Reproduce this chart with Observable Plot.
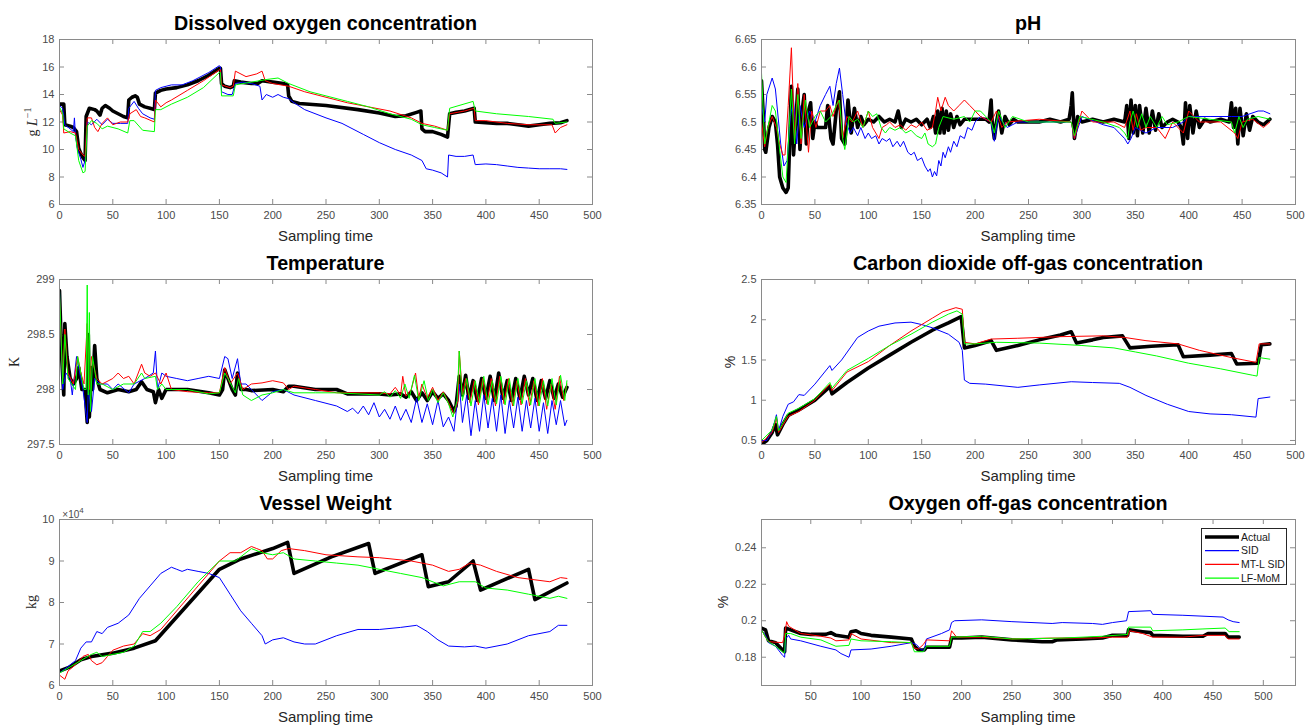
<!DOCTYPE html>
<html><head><meta charset="utf-8">
<script src="https://cdn.jsdelivr.net/npm/d3@7"></script>
<script src="https://cdn.jsdelivr.net/npm/@observablehq/plot@0.6"></script>
<style>
body{margin:0;background:#fff;}
#wrap{position:relative;width:1313px;height:725px;overflow:hidden;background:#fff;font-family:"Liberation Sans",Arial,sans-serif;}
.c{position:absolute;transform:translate(-50%,-50%);white-space:nowrap;}
.title{font-weight:bold;font-size:19.7px;color:#000;}
.xl{font-size:15px;color:#262626;}
.yl{font-size:14px;color:#262626;transform:translate(-50%,-50%) rotate(-90deg);}
.serif{font-family:"Liberation Serif","Times New Roman",serif;}
</style></head><body><div id="wrap"></div>
<script>
// ---------- Data (sampling time, value) ----------
const xTicks = [0,50,100,150,200,250,300,350,400,450,500];
const xTicksO2 = [50,100,150,200,250,300,350,400,450,500];
const seriesNames = ["Actual","SID","MT-L SID","LF-MoM"];

// Dissolved oxygen concentration (g L^-1)
const doActual = [[0,13.3],[4,13.3],[5,11.8],[10,11.7],[13,11.6],[16,11.3],[18,10.1],[20,9.7],[22,9.4],[24,9.2],[25,12.4],[28,13.0],[33,12.9],[35,12.8],[38,12.5],[40,13.0],[43,13.2],[47,13.0],[50,12.8],[55,12.6],[60,12.4],[64,12.3],[65,13.6],[68,13.8],[71,13.9],[73,13.8],[75,13.3],[80,13.1],[85,13.0],[89,12.9],[90,14.1],[95,14.3],[100,14.4],[110,14.5],[120,14.7],[130,15.0],[140,15.4],[150,15.9],[151,15.9],[152,14.8],[155,14.6],[160,14.5],[163,14.6],[164,15.0],[170,14.9],[180,14.8],[186,14.8],[190,15.0],[200,14.9],[210,14.8],[214,14.7],[215,13.9],[218,13.5],[225,13.35],[250,13.2],[280,12.9],[300,12.65],[315,12.4],[325,12.45],[335,12.7],[339,12.8],[340,11.5],[343,11.3],[350,11.3],[358,11.1],[364,10.9],[366,12.6],[372,12.7],[380,12.8],[389,13.0],[390,12.0],[400,11.95],[410,11.9],[420,11.9],[430,11.8],[440,11.7],[450,11.8],[460,11.9],[470,11.95],[476,12.1]];
const doSID = [[0,13.2],[3,13.0],[5,11.8],[10,11.5],[13,11.3],[14,12.3],[15,11.0],[17,10.0],[20,9.3],[22,8.7],[24,9.2],[26,12.0],[30,11.8],[35,12.2],[40,11.8],[45,12.2],[50,11.9],[57,11.9],[64,11.9],[65,13.0],[70,13.5],[74,13.0],[78,12.6],[85,12.3],[89,12.2],[90,14.3],[95,14.5],[100,14.6],[105,14.7],[115,14.7],[125,15.0],[140,15.6],[150,16.1],[151,16.0],[152,14.2],[158,14.0],[162,14.0],[165,14.8],[172,14.9],[180,14.8],[188,14.6],[190,13.6],[194,14.0],[200,13.8],[205,14.0],[210,13.8],[215,13.7],[220,13.4],[230,12.9],[250,12.3],[265,11.9],[285,11.1],[300,10.5],[315,10.0],[330,9.6],[340,9.2],[344,8.6],[350,8.5],[358,8.3],[364,8.0],[365,9.6],[372,9.5],[380,9.5],[388,9.6],[390,8.9],[400,8.95],[410,8.9],[420,8.8],[430,8.7],[440,8.65],[450,8.6],[460,8.6],[470,8.6],[476,8.55]];
const doMTL = [[0,12.9],[3,12.5],[4,11.2],[10,11.3],[15,11.2],[18,10.0],[22,9.6],[24,9.5],[26,12.3],[30,12.3],[33,11.6],[36,11.3],[40,11.9],[45,12.3],[50,11.8],[57,12.0],[64,12.0],[66,12.6],[72,12.9],[76,12.4],[80,12.3],[89,12.0],[90,13.6],[95,13.1],[100,13.4],[105,13.6],[120,14.3],[135,15.0],[150,15.8],[151,15.8],[152,14.7],[160,14.5],[163,14.6],[165,15.7],[175,15.3],[185,15.5],[190,15.7],[193,15.0],[200,14.8],[215,14.6],[230,14.2],[250,13.8],[270,13.4],[290,13.1],[310,12.8],[330,12.3],[340,11.9],[352,11.7],[364,11.4],[366,12.6],[380,12.8],[389,13.0],[390,12.1],[400,12.1],[420,11.9],[440,11.8],[462,11.8],[465,11.2],[470,11.6],[476,11.8]];
const doLF = [[0,13.1],[3,12.6],[4,11.5],[10,11.2],[15,11.0],[18,9.2],[22,8.3],[24,8.4],[26,11.7],[30,12.1],[35,11.9],[40,11.5],[45,11.7],[55,11.5],[64,11.2],[66,12.1],[70,12.1],[78,11.4],[89,11.3],[90,12.9],[95,12.9],[105,13.3],[120,13.8],[135,14.5],[150,15.6],[151,15.6],[152,13.9],[163,13.9],[165,14.7],[180,14.9],[195,15.1],[205,15.2],[215,14.8],[235,14.2],[250,13.9],[270,13.5],[290,13.1],[310,12.6],[330,12.2],[340,11.8],[352,11.6],[364,11.4],[366,13.0],[388,13.5],[390,12.8],[410,12.6],[440,12.4],[463,12.2],[465,11.9],[476,12.0]];

// pH
const phActual = [[0,6.575],[2,6.5],[3,6.45],[4,6.445],[7,6.49],[10,6.51],[13,6.5],[15,6.46],[17,6.40],[20,6.38],[23,6.372],[25,6.38],[27,6.50],[28,6.565],[30,6.44],[32,6.50],[34,6.56],[36,6.45],[38,6.52],[40,6.55],[42,6.46],[44,6.52],[46,6.535],[48,6.47],[50,6.5],[52,6.49],[56,6.49],[60,6.49],[62,6.53],[65,6.47],[67,6.46],[70,6.52],[73,6.555],[75,6.47],[78,6.46],[81,6.54],[84,6.48],[87,6.525],[90,6.49],[93,6.51],[96,6.495],[100,6.505],[105,6.5],[110,6.51],[115,6.5],[120,6.505],[125,6.50],[128,6.52],[131,6.49],[135,6.505],[140,6.50],[145,6.505],[150,6.495],[155,6.505],[158,6.49],[161,6.51],[163,6.48],[165,6.52],[167,6.48],[169,6.525],[171,6.48],[173,6.52],[175,6.485],[177,6.515],[180,6.49],[183,6.51],[186,6.495],[190,6.505],[200,6.505],[210,6.505],[213,6.50],[215,6.54],[216,6.50],[218,6.47],[220,6.50],[222,6.52],[225,6.48],[228,6.51],[232,6.495],[236,6.505],[240,6.50],[260,6.50],[270,6.505],[280,6.50],[288,6.505],[290,6.53],[291,6.553],[293,6.47],[296,6.51],[300,6.50],[310,6.505],[320,6.50],[330,6.505],[340,6.50],[342,6.53],[344,6.47],[346,6.54],[348,6.48],[350,6.53],[352,6.475],[354,6.53],[357,6.48],[360,6.525],[363,6.48],[366,6.52],[369,6.485],[372,6.515],[375,6.49],[380,6.50],[385,6.505],[390,6.50],[393,6.49],[395,6.46],[397,6.535],[399,6.47],[401,6.53],[404,6.48],[407,6.52],[410,6.49],[415,6.505],[420,6.50],[430,6.505],[438,6.50],[440,6.535],[442,6.49],[444,6.525],[446,6.46],[448,6.525],[451,6.475],[454,6.515],[457,6.485],[460,6.51],[465,6.50],[470,6.495],[476,6.505]];
const phSID = [[0,6.53],[3,6.50],[5,6.55],[10,6.58],[13,6.56],[15,6.52],[18,6.46],[21,6.42],[24,6.43],[27,6.51],[30,6.54],[33,6.46],[36,6.53],[40,6.49],[45,6.52],[50,6.50],[55,6.53],[60,6.55],[64,6.565],[67,6.53],[70,6.57],[73,6.598],[76,6.55],[79,6.50],[83,6.48],[86,6.49],[90,6.475],[93,6.49],[97,6.47],[100,6.48],[103,6.47],[107,6.475],[110,6.46],[113,6.47],[117,6.465],[120,6.47],[123,6.455],[127,6.465],[130,6.455],[133,6.465],[137,6.445],[140,6.44],[143,6.445],[146,6.43],[150,6.435],[153,6.42],[156,6.41],[158,6.415],[160,6.40],[162,6.41],[164,6.402],[166,6.43],[168,6.42],[170,6.445],[172,6.435],[175,6.455],[177,6.445],[180,6.465],[183,6.455],[186,6.475],[190,6.47],[193,6.49],[197,6.485],[200,6.50],[205,6.51],[215,6.50],[218,6.465],[222,6.51],[230,6.49],[240,6.50],[260,6.50],[290,6.50],[293,6.47],[300,6.51],[320,6.495],[330,6.49],[340,6.47],[343,6.46],[346,6.47],[350,6.49],[360,6.48],[370,6.49],[385,6.49],[395,6.50],[400,6.51],[420,6.51],[440,6.51],[450,6.51],[465,6.52],[470,6.52],[476,6.515]];
const phMTL = [[0,6.5],[3,6.455],[6,6.49],[10,6.51],[14,6.49],[17,6.46],[20,6.44],[22,6.44],[25,6.53],[28,6.635],[31,6.47],[34,6.57],[37,6.46],[40,6.55],[44,6.445],[47,6.52],[51,6.49],[55,6.52],[60,6.52],[64,6.53],[67,6.51],[72,6.54],[76,6.47],[80,6.51],[85,6.50],[90,6.52],[95,6.49],[100,6.52],[104,6.49],[107,6.48],[110,6.47],[113,6.49],[117,6.495],[120,6.50],[125,6.49],[130,6.495],[135,6.485],[140,6.495],[145,6.49],[150,6.50],[155,6.485],[160,6.49],[163,6.52],[165,6.545],[168,6.52],[172,6.545],[175,6.53],[180,6.52],[185,6.53],[190,6.54],[195,6.53],[200,6.52],[205,6.51],[210,6.505],[215,6.50],[220,6.52],[225,6.49],[230,6.50],[260,6.505],[290,6.50],[293,6.47],[300,6.52],[310,6.50],[330,6.50],[340,6.49],[345,6.52],[348,6.485],[351,6.515],[355,6.485],[360,6.49],[370,6.49],[378,6.47],[385,6.50],[395,6.48],[400,6.52],[410,6.50],[430,6.50],[443,6.48],[446,6.47],[450,6.50],[460,6.505],[470,6.49],[476,6.50]];
const phLF = [[0,6.59],[3,6.46],[6,6.49],[10,6.53],[13,6.52],[17,6.45],[20,6.40],[23,6.39],[26,6.49],[28,6.56],[31,6.46],[34,6.55],[37,6.47],[41,6.54],[45,6.49],[50,6.51],[55,6.52],[60,6.50],[65,6.51],[70,6.53],[73,6.54],[76,6.47],[78,6.45],[82,6.51],[86,6.50],[90,6.505],[95,6.49],[100,6.52],[104,6.51],[108,6.515],[112,6.49],[116,6.48],[120,6.49],[125,6.485],[130,6.49],[135,6.48],[140,6.485],[145,6.475],[150,6.47],[153,6.48],[156,6.46],[160,6.455],[163,6.46],[166,6.49],[170,6.51],[180,6.505],[190,6.51],[195,6.50],[200,6.52],[205,6.52],[210,6.51],[215,6.50],[218,6.48],[222,6.52],[228,6.49],[235,6.51],[250,6.50],[290,6.50],[293,6.475],[298,6.51],[320,6.50],[335,6.49],[340,6.48],[343,6.47],[345,6.50],[348,6.52],[352,6.49],[356,6.515],[360,6.49],[364,6.51],[370,6.49],[375,6.51],[380,6.495],[390,6.50],[400,6.51],[420,6.505],[440,6.50],[443,6.48],[447,6.51],[451,6.49],[455,6.505],[465,6.51],[476,6.505]];

// Temperature (K)
const tActual = [[0,298.9],[2,298.3],[4,297.95],[5,298.6],[7,298.3],[10,298.1],[13,298.05],[16,298.1],[18,298.2],[21,298.0],[24,298.0],[26,297.7],[27,298.5],[28,297.75],[30,298.2],[31,298.0],[33,298.4],[35,298.1],[38,298.0],[45,297.97],[55,298.0],[65,297.98],[72,298.0],[77,298.07],[82,298.0],[88,297.98],[90,297.88],[93,298.0],[96,297.92],[100,298.0],[120,298.0],[140,297.97],[150,297.95],[153,298.0],[155,298.18],[158,298.1],[162,298.0],[165,297.95],[167,298.15],[170,298.0],[175,298.0],[180,297.99],[200,298.0],[210,297.98],[215,298.03],[220,298.03],[240,298.0],[260,298.0],[270,297.96],[300,297.96],[310,297.95],[320,297.96],[325,297.93],[330,297.98],[335,297.9],[340,297.97],[345,297.9],[350,297.98],[355,297.92],[360,297.96],[365,297.9],[370,297.8],[372,297.85],[375,298.12],[378,297.95],[381,298.13],[384,297.92],[388,298.08],[392,297.9],[396,298.1],[400,297.92],[404,298.12],[408,297.9],[412,298.15],[416,297.92],[420,298.08],[424,297.9],[428,298.1],[432,297.92],[436,298.12],[440,297.95],[444,298.1],[448,297.9],[452,298.08],[456,297.92],[460,298.08],[464,297.92],[468,298.05],[472,297.93],[476,298.02]];
const tSID = [[0,298.9],[3,298.0],[6,298.15],[10,298.1],[12,297.95],[16,298.3],[18,298.2],[22,298.0],[26,297.7],[27,298.0],[30,297.8],[33,298.1],[38,298.05],[45,298.05],[50,298.0],[55,298.05],[65,297.97],[70,298.05],[80,298.1],[88,298.15],[90,298.35],[92,298.0],[96,298.15],[100,298.12],[110,298.1],[120,298.08],[130,298.1],[140,298.12],[150,298.1],[155,298.3],[158,298.28],[162,298.1],[167,298.28],[170,298.05],[175,298.05],[180,298.0],[190,297.9],[200,297.98],[210,298.0],[220,297.95],[240,297.9],[260,297.85],[270,297.8],[275,297.83],[280,297.78],[285,297.85],[290,297.77],[295,297.88],[300,297.75],[305,297.82],[310,297.73],[315,297.85],[320,297.72],[325,297.82],[330,297.7],[335,297.92],[340,297.7],[345,297.87],[350,297.68],[355,297.9],[360,297.66],[365,297.75],[370,297.62],[375,298.05],[378,297.7],[382,297.95],[386,297.58],[390,297.9],[394,297.62],[398,297.95],[402,297.65],[406,297.92],[410,297.62],[414,297.95],[418,297.6],[422,297.9],[426,297.65],[430,297.93],[434,297.62],[438,297.9],[442,297.65],[446,297.92],[450,297.62],[454,297.88],[458,297.6],[462,297.9],[466,297.68],[470,297.9],[474,297.67],[476,297.72]];
const tMTL = [[0,298.85],[3,298.1],[5,298.55],[8,298.15],[13,298.05],[17,298.3],[20,298.15],[23,298.05],[26,298.6],[28,298.0],[30,298.3],[35,298.1],[40,298.05],[50,298.1],[55,298.15],[60,298.1],[65,298.12],[70,298.05],[77,298.23],[80,298.15],[85,298.12],[90,298.15],[95,298.05],[100,298.15],[105,298.0],[120,297.98],[140,297.97],[150,297.97],[155,298.2],[160,298.05],[167,298.15],[172,298.0],[180,298.05],[190,298.06],[200,298.08],[210,298.06],[215,298.0],[220,298.03],[240,298.0],[260,297.97],[280,297.97],[300,297.97],[310,297.96],[315,298.02],[320,297.95],[322,298.12],[325,297.94],[330,298.0],[334,298.15],[337,297.92],[340,298.05],[345,297.92],[350,298.02],[355,297.9],[360,297.98],[365,297.88],[370,297.78],[374,297.9],[375,298.35],[378,297.95],[381,298.1],[385,297.88],[389,298.08],[393,297.86],[397,298.1],[401,297.87],[405,298.1],[409,297.85],[413,298.12],[417,297.87],[421,298.1],[425,297.85],[429,298.08],[433,297.86],[437,298.1],[441,297.85],[445,298.08],[449,297.85],[453,298.1],[457,297.82],[461,298.05],[465,297.82],[469,298.12],[473,297.9],[476,298.05]];
const tLF = [[0,298.9],[3,298.05],[5,298.5],[8,298.1],[15,298.0],[17,298.3],[20,298.15],[23,298.0],[25,298.0],[26,298.95],[27,297.95],[28,298.7],[29,297.8],[31,298.3],[35,298.05],[40,298.05],[50,298.0],[60,298.05],[70,298.05],[77,298.15],[80,298.1],[90,298.12],[92,298.0],[96,298.05],[100,298.0],[120,298.0],[140,297.96],[150,297.97],[155,298.15],[158,298.1],[165,297.97],[168,298.1],[172,297.95],[180,297.9],[190,297.95],[200,297.97],[210,298.0],[220,297.97],[240,297.97],[260,297.97],[280,297.96],[300,297.95],[305,297.98],[310,297.93],[315,297.99],[320,297.92],[324,298.05],[328,297.92],[333,298.13],[337,297.9],[342,298.08],[346,297.9],[350,298.0],[355,297.88],[360,297.97],[365,297.87],[369,297.75],[373,297.9],[375,298.35],[378,297.9],[382,298.1],[386,297.85],[390,298.08],[394,297.88],[398,298.12],[402,297.86],[406,298.08],[410,297.87],[414,298.12],[418,297.86],[422,298.1],[426,297.85],[430,298.1],[434,297.87],[438,298.08],[442,297.86],[446,298.1],[450,297.85],[454,298.08],[458,297.85],[462,298.1],[466,297.86],[470,298.13],[474,297.9],[476,298.08]];

// Carbon dioxide off-gas concentration (%)
const co2Actual = [[0,0.45],[5,0.5],[10,0.6],[13,0.7],[15,0.57],[20,0.7],[25,0.81],[35,0.88],[50,1.0],[64,1.17],[66,1.08],[80,1.22],[100,1.4],[120,1.56],[140,1.72],[160,1.87],[175,1.96],[187,2.04],[190,1.65],[200,1.68],[215,1.74],[220,1.62],[240,1.68],[260,1.75],[280,1.81],[290,1.85],[295,1.71],[310,1.75],[320,1.78],[338,1.8],[345,1.65],[365,1.67],[390,1.69],[395,1.54],[420,1.56],[440,1.58],[445,1.45],[465,1.46],[468,1.69],[476,1.70]];
const co2SID = [[0,0.5],[5,0.5],[10,0.62],[14,0.82],[16,0.62],[20,0.8],[25,0.95],[30,0.98],[35,1.07],[40,1.06],[50,1.2],[64,1.43],[66,1.37],[75,1.5],[90,1.78],[100,1.86],[110,1.92],[125,1.96],[140,1.97],[150,1.94],[160,1.9],[175,1.82],[185,1.72],[188,1.62],[190,1.25],[195,1.21],[210,1.2],[240,1.16],[260,1.19],[290,1.23],[310,1.22],[335,1.21],[345,1.16],[360,1.06],[380,0.95],[400,0.86],[420,0.83],[440,0.82],[463,0.79],[465,1.02],[476,1.04]];
const co2MTL = [[0,0.47],[10,0.6],[14,0.78],[16,0.6],[25,0.8],[35,0.86],[50,1.0],[64,1.2],[66,1.12],[80,1.35],[100,1.48],[120,1.68],[140,1.86],[160,2.02],[170,2.1],[182,2.15],[188,2.13],[190,1.72],[200,1.7],[215,1.76],[240,1.77],[280,1.79],[320,1.8],[340,1.78],[360,1.74],[390,1.7],[410,1.62],[440,1.53],[463,1.47],[466,1.7],[476,1.7]];
const co2LF = [[0,0.5],[10,0.63],[14,0.8],[16,0.62],[25,0.84],[35,0.9],[50,1.02],[64,1.22],[66,1.15],[80,1.37],[100,1.52],[120,1.68],[140,1.82],[160,1.97],[175,2.07],[183,2.11],[188,2.07],[190,1.7],[200,1.7],[220,1.72],[260,1.71],[300,1.68],[330,1.65],[350,1.6],[370,1.55],[400,1.46],[430,1.39],[460,1.31],[464,1.30],[466,1.53],[476,1.51]];

// Vessel weight (kg)
const vwActual = [[0,63500],[10,64500],[20,66200],[30,67000],[50,67800],[70,69000],[90,70800],[150,88000],[170,90500],[200,93000],[214,94500],[220,87000],[255,91000],[290,94200],[296,87000],[340,91500],[346,83800],[365,85000],[388,90000],[395,83000],[440,88000],[446,80700],[476,84700]];
const vwSID = [[0,63000],[5,64000],[10,65000],[15,66000],[20,69000],[25,70500],[30,70500],[35,73000],[40,72500],[45,74000],[55,75000],[65,77000],[75,81000],[85,84000],[95,87000],[105,88500],[110,88000],[115,87500],[120,88000],[130,87500],[140,87000],[150,86000],[160,82000],[170,78000],[180,75000],[190,72000],[193,70000],[200,71000],[210,71500],[220,70500],[230,70000],[240,70000],[260,72000],[280,73500],[300,73500],[320,74000],[335,74500],[345,73000],[355,71000],[365,69500],[380,69300],[390,69500],[400,69000],[420,70000],[440,72000],[460,73000],[468,74500],[476,74500]];
const vwMTL = [[0,62500],[5,61500],[8,63500],[15,65000],[22,67000],[27,67500],[30,66000],[35,65000],[40,65500],[45,67000],[50,68500],[60,69500],[70,70000],[78,72500],[85,72000],[95,73500],[110,78000],[130,84000],[150,90000],[160,92000],[170,92000],[180,93500],[185,93000],[190,92500],[195,90500],[200,90500],[208,92500],[215,93000],[230,92500],[250,91500],[280,91000],[300,90800],[330,90000],[350,89000],[365,87500],[375,88000],[385,89500],[395,89000],[410,87500],[430,86000],[460,85000],[470,86000],[476,85800]];
const vwLF = [[0,63000],[10,64500],[20,66000],[30,67500],[35,68000],[40,67000],[50,67500],[60,68000],[70,69500],[78,73000],[85,73000],[95,75000],[110,79000],[130,85000],[150,90000],[165,90000],[180,93000],[190,92000],[200,91500],[210,92000],[220,90500],[240,90000],[260,89500],[280,89000],[300,88000],[320,87000],[340,86000],[360,84000],[375,85000],[390,85000],[400,83500],[420,83000],[440,82000],[460,81000],[468,81500],[476,81000]];

// Oxygen off-gas concentration (%)
const o2Actual = [[1,0.196],[5,0.195],[8,0.189],[15,0.188],[22,0.184],[24,0.183],[25,0.196],[30,0.195],[40,0.193],[50,0.1925],[65,0.1925],[70,0.1935],[75,0.192],[88,0.191],[90,0.194],[95,0.1945],[100,0.193],[110,0.192],[130,0.191],[150,0.190],[153,0.186],[157,0.184],[163,0.184],[165,0.1855],[188,0.1855],[190,0.1905],[200,0.1905],[220,0.191],[250,0.1895],[280,0.1885],[290,0.1885],[295,0.1895],[320,0.190],[340,0.1905],[350,0.192],[365,0.192],[366,0.195],[380,0.194],[388,0.1935],[390,0.192],[420,0.1915],[440,0.1915],[445,0.193],[462,0.193],[465,0.191],[476,0.191]];
const o2SID = [[1,0.195],[5,0.192],[8,0.188],[15,0.186],[22,0.181],[24,0.180],[25,0.190],[28,0.192],[30,0.190],[40,0.189],[60,0.186],[75,0.184],[80,0.182],[88,0.180],[90,0.184],[110,0.1845],[130,0.186],[150,0.188],[155,0.187],[160,0.184],[163,0.184],[165,0.190],[180,0.193],[188,0.195],[190,0.199],[193,0.200],[220,0.2005],[250,0.1995],[290,0.1985],[300,0.199],[330,0.1985],[340,0.198],[350,0.199],[364,0.200],[366,0.205],[388,0.2055],[390,0.2035],[420,0.203],[460,0.202],[465,0.2005],[470,0.1995],[476,0.199]];
const o2MTL = [[1,0.195],[5,0.191],[8,0.1885],[22,0.188],[24,0.192],[26,0.1995],[28,0.197],[40,0.193],[60,0.1915],[70,0.1905],[75,0.189],[88,0.1895],[90,0.193],[100,0.190],[130,0.188],[150,0.188],[153,0.185],[157,0.1845],[162,0.187],[165,0.1895],[188,0.189],[190,0.1945],[195,0.191],[220,0.191],[250,0.190],[290,0.1905],[330,0.1905],[350,0.191],[365,0.191],[367,0.1945],[380,0.193],[390,0.191],[420,0.191],[440,0.192],[462,0.192],[465,0.190],[476,0.190]];
const o2LF = [[1,0.195],[5,0.191],[8,0.1885],[15,0.186],[22,0.183],[24,0.1825],[25,0.193],[30,0.193],[40,0.191],[60,0.1895],[75,0.186],[88,0.1865],[90,0.190],[100,0.189],[130,0.1885],[150,0.188],[153,0.183],[162,0.183],[165,0.186],[188,0.186],[190,0.191],[220,0.1915],[250,0.190],[300,0.1905],[340,0.1915],[365,0.1925],[366,0.1965],[388,0.1965],[390,0.1945],[420,0.195],[440,0.1955],[462,0.196],[466,0.194],[476,0.194]];

// ---------- Layout / drawing ----------
const colors = ["#000000","#0000ff","#ff0000","#00ff00"];
const widths = [3.6,1,1,1];
const frameColor = "#8a8a8a";
const wrap = document.getElementById("wrap");

const panels = [
  {title:"Dissolved oxygen concentration", l:59,r:592,t:39,b:204, xd:[0,500], xt:xTicks, yd:[6,18], yt:[6,8,10,12,14,16,18], fmt:d=>String(d), data:[doActual,doSID,doMTL,doLF], ylab:'<span class="serif">g <i>L</i><sup style="font-size:10px">−1</sup></span>', ylx:31},
  {title:"pH", l:761,r:1295,t:39,b:204, xd:[0,500], xt:xTicks, yd:[6.35,6.65], yt:[6.35,6.4,6.45,6.5,6.55,6.6,6.65], fmt:d=>String(d), data:[phActual,phSID,phMTL,phLF], ylab:null},
  {title:"Temperature", l:59,r:592,t:279,b:444, xd:[0,500], xt:xTicks, yd:[297.5,299], yt:[297.5,298,298.5,299], fmt:d=>String(d), data:[tActual,tSID,tMTL,tLF], ylab:'<span class="serif">K</span>', ylx:14},
  {title:"Carbon dioxide off-gas concentration", l:761,r:1295,t:279,b:444, xd:[0,500], xt:xTicks, yd:[0.45,2.5], yt:[0.5,1,1.5,2,2.5], fmt:d=>String(d), data:[co2Actual,co2SID,co2MTL,co2LF], ylab:'%', ylx:730},
  {title:"Vessel Weight", l:59,r:592,t:519,b:685, xd:[0,500], xt:xTicks, yd:[60000,100000], yt:[60000,70000,80000,90000,100000], fmt:d=>String(d/10000), data:[vwActual,vwSID,vwMTL,vwLF], ylab:'<span class="serif">kg</span>', ylx:31},
  {title:"Oxygen off-gas concentration", l:761,r:1295,t:519,b:685, xd:[1,532], xt:xTicksO2, yd:[0.1645,0.2555], yt:[0.18,0.2,0.22,0.24], fmt:d=>String(d), data:[o2Actual,o2SID,o2MTL,o2LF], ylab:'%', ylx:723}
];

function addText(html, x, y, cls) {
  const d = document.createElement("div");
  d.className = "c " + cls;
  d.style.left = x + "px"; d.style.top = y + "px";
  d.innerHTML = html;
  wrap.appendChild(d);
  return d;
}

for (const p of panels) {
  const ml = 48, mr = 10, mt = 10, mb = 24;
  const iw = p.r - p.l, ih = p.b - p.t;
  const chart = Plot.plot({
    width: iw + ml + mr, height: ih + mt + mb,
    marginLeft: ml, marginRight: mr, marginTop: mt, marginBottom: mb,
    style: {fontFamily: "'Liberation Sans', Arial, sans-serif", fontSize: "11px", color: "#4a4a4a", background: "transparent", overflow: "visible"},
    x: {domain: p.xd},
    y: {domain: p.yd},
    marks: [
      Plot.tickX(p.xt, {x: d => d, insetTop: ih - 5, stroke: frameColor}),
      Plot.tickX(p.xt, {x: d => d, insetBottom: ih - 5, stroke: frameColor}),
      Plot.tickY(p.yt, {y: d => d, insetRight: iw - 5, stroke: frameColor}),
      Plot.tickY(p.yt, {y: d => d, insetLeft: iw - 5, stroke: frameColor}),
      Plot.axisX({ticks: p.xt, tickSize: 0, tickPadding: 7, label: null, tickFormat: d => String(d)}),
      Plot.axisY({ticks: p.yt, tickSize: 0, tickPadding: 5, label: null, tickFormat: p.fmt}),
      ...p.data.map((s, i) => Plot.line(s, {stroke: colors[i], strokeWidth: widths[i], strokeLinejoin: "round", clip: true})),
      Plot.frame({stroke: frameColor})
    ]
  });
  chart.style.position = "absolute";
  chart.style.left = (p.l - ml) + "px";
  chart.style.top = (p.t - mt) + "px";
  wrap.appendChild(chart);
  const cx = (p.l + p.r) / 2;
  addText(p.title, cx, p.t - 16, "title");
  addText("Sampling time", cx, p.b + 31, "xl");
  if (p.ylab) addText(p.ylab, p.ylx, (p.t + p.b) / 2, "yl");
}

// ×10^4 exponent label for vessel weight
const ex = addText('×10<sup style="font-size:8px">4</sup>', 73, 513, "xe");
ex.style.fontSize = "10px"; ex.style.color = "#4a4a4a";

// Legend
const lg = document.createElement("div");
lg.style.cssText = "position:absolute;left:1201px;top:528px;width:86px;height:57px;background:#fff;border:1px solid #262626;box-sizing:border-box;";
const ns = "http://www.w3.org/2000/svg";
const svg = document.createElementNS(ns, "svg");
svg.setAttribute("width", 86); svg.setAttribute("height", 57);
seriesNames.forEach((name, i) => {
  const y = 8 + i * 13.7;
  const ln = document.createElementNS(ns, "line");
  ln.setAttribute("x1", 3); ln.setAttribute("x2", 37); ln.setAttribute("y1", y); ln.setAttribute("y2", y);
  ln.setAttribute("stroke", colors[i]); ln.setAttribute("stroke-width", widths[i] === 1 ? 1.2 : 3.6);
  svg.appendChild(ln);
  const tx = document.createElementNS(ns, "text");
  tx.setAttribute("x", 39); tx.setAttribute("y", y + 3.6);
  tx.setAttribute("font-size", "10.5px");
  tx.setAttribute("font-family", "'Liberation Sans', Arial, sans-serif");
  tx.setAttribute("fill", "#1a1a1a");
  tx.textContent = name;
  svg.appendChild(tx);
});
lg.appendChild(svg);
wrap.appendChild(lg);
</script>
</body></html>
